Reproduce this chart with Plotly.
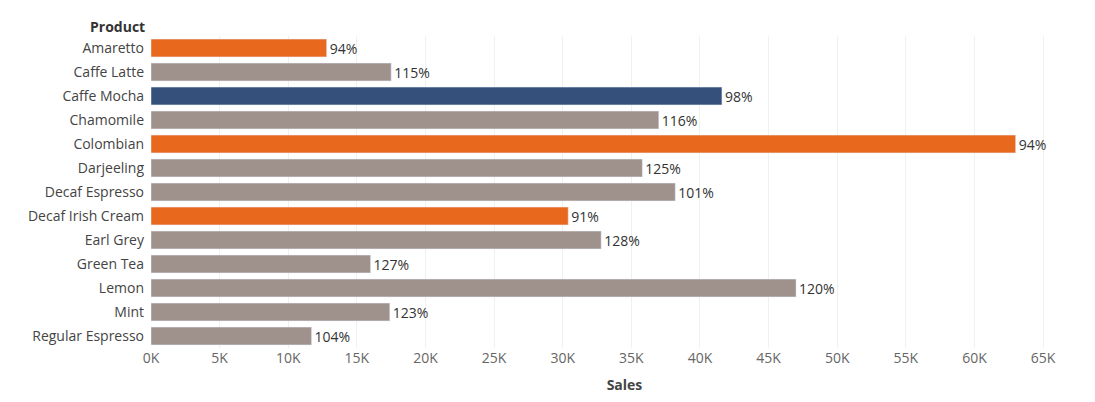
import plotly.graph_objects as go

products = ["Amaretto", "Caffe Latte", "Caffe Mocha", "Chamomile", "Colombian", "Darjeeling",
            "Decaf Espresso", "Decaf Irish Cream", "Earl Grey", "Green Tea", "Lemon", "Mint",
            "Regular Espresso"]
sales = [12800, 17500, 41600, 37000, 63000, 35800, 38200, 30400, 32800, 16000, 47000, 17400, 11700]
pct_labels = ["94%", "115%", "98%", "116%", "94%", "125%", "101%", "91%", "128%", "127%",
              "120%", "123%", "104%"]
groups = ["low", "mid", "high", "mid", "low", "mid", "mid", "low", "mid", "mid", "mid", "mid", "mid"]
tick_vals = list(range(0, 65001, 5000))
tick_text = [f"{v // 1000}K" for v in tick_vals]

palette = {"low": "#E8681E", "mid": "#9F918B", "high": "#34507B"}

fig = go.Figure(go.Bar(
    x=sales, y=products, orientation="h",
    marker_color=[palette[g] for g in groups],
    text=pct_labels, textposition="outside", cliponaxis=False, constraintext="none",
    textfont=dict(size=14, color="#333333"),
    width=0.74,
))
fig.update_layout(
    width=1095, height=402,
    margin=dict(l=143, r=5, t=28, b=62),
    plot_bgcolor="white", paper_bgcolor="white",
    font=dict(family="Open Sans, Noto Sans, sans-serif", size=14, color="#444444"),
    showlegend=False,
    annotations=[dict(text="<b>Product</b>", x=82, xref="paper", xanchor="left",
                      y=1, yref="paper", yanchor="bottom", showarrow=False,
                      font=dict(size=14, color="#333333"))],
)
fig.layout.annotations[0].update(x=0, xanchor="left", xshift=-63, yshift=-2)
fig.update_xaxes(range=[0, 69000], tickvals=tick_vals, ticktext=tick_text,
                 showgrid=True, gridcolor="#EEF2EC", zeroline=False, automargin=False,
                 tickfont=dict(size=14, color="#666666"),
                 title=dict(text="<b>Sales</b>", font=dict(size=14, color="#444444"), standoff=14))
fig.update_yaxes(autorange="reversed", showgrid=False, ticks="", ticklabelstandoff=6,
                 automargin=False, tickfont=dict(size=14, color="#444444"))
fig.write_html("out.html")
